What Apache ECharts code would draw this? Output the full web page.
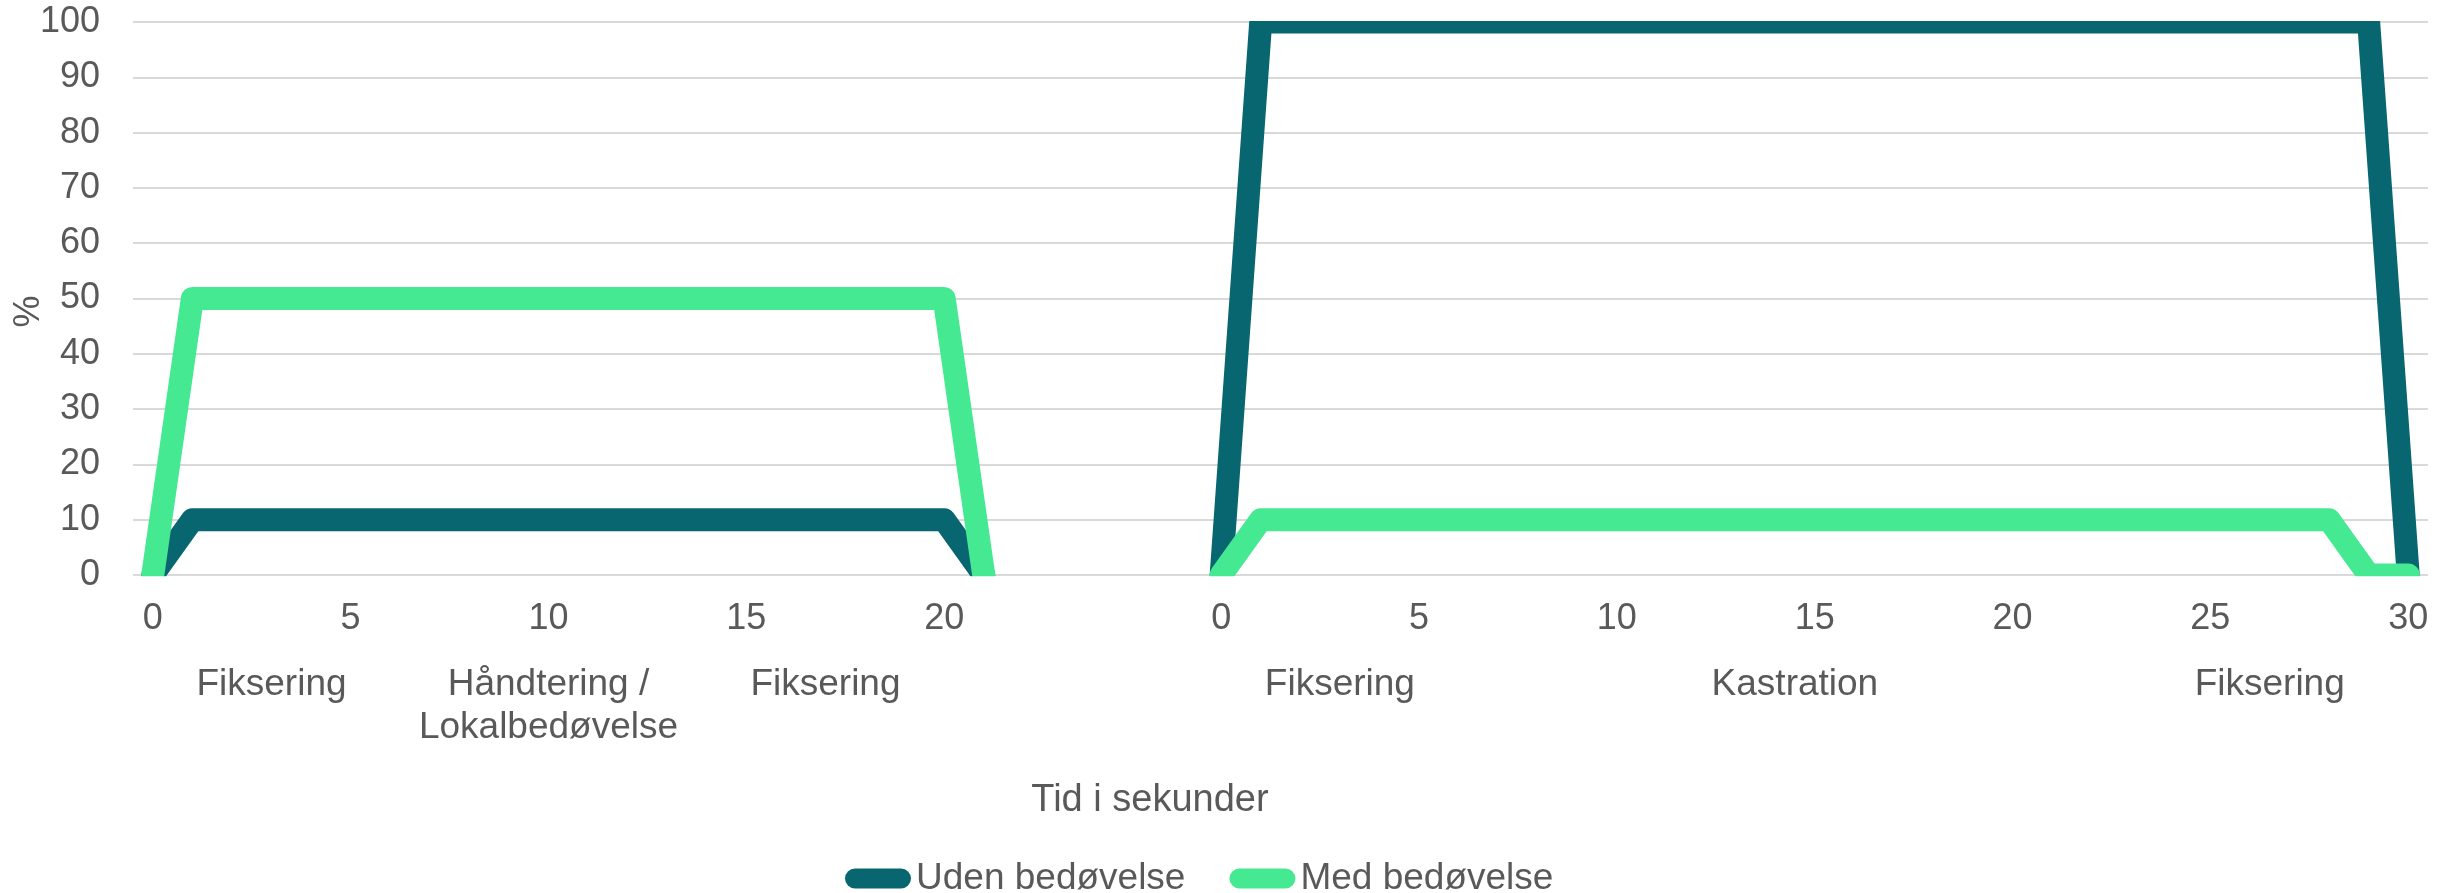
<!DOCTYPE html>
<html><head><meta charset="utf-8">
<script src="https://cdn.jsdelivr.net/npm/echarts@6/dist/echarts.min.js"></script>
<style>html,body{margin:0;padding:0;background:#fff}#c{width:2445px;height:893px}</style>
</head><body><div id="c"></div>
<script>
// Category axis: seconds of first procedure, 5 empty spacer slots, seconds of second procedure
const categories = [
  '0','1','2','3','4','5','6','7','8','9','10','11','12','13','14','15','16','17','18','19','20','21',
  '','','','','',
  '0','1','2','3','4','5','6','7','8','9','10','11','12','13','14','15','16','17','18','19','20',
  '21','22','23','24','25','26','27','28','29','30'
];
const tickLabels = ['0','5','10','15','20','25','30'];

const udenBedoevelse = [
  0,10,10,10,10,10,10,10,10,10,10,10,10,10,10,10,10,10,10,10,10,0,
  null,null,null,null,null,
  0,100,100,100,100,100,100,100,100,100,100,100,100,100,100,100,100,100,100,100,100,
  100,100,100,100,100,100,100,100,100,0
];
const medBedoevelse = [
  0,50,50,50,50,50,50,50,50,50,50,50,50,50,50,50,50,50,50,50,50,0,
  null,null,null,null,null,
  0,10,10,10,10,10,10,10,10,10,10,10,10,10,10,10,10,10,10,10,10,
  10,10,10,10,10,10,10,10,0,0
];

const phaseLabels = ['Fiksering','Håndtering /\nLokalbedøvelse','Fiksering','Fiksering','Kastration','Fiksering'];
const phaseIndex = [3, 10, 17, 30, 41.5, 53.5];

const FONT = '"Liberation Sans", Arial, sans-serif';
const TXT = '#595959';
const DARK = '#086670';
const GREEN = '#45E991';
const GRID = {left:133, right:17, top:22, bottom:318};

const chart = echarts.init(document.getElementById('c'), null, {renderer:'canvas', width:2445, height:893});
chart.setOption({
  animation:false,
  backgroundColor:'#fff',
  textStyle:{fontFamily:FONT},
  grid:Object.assign({outerBoundsMode:'none', containLabel:false}, GRID),
  legend:{
    left:840, top:855, itemWidth:66, itemHeight:20, itemGap:44,
    icon:'path://M10,0 L56,0 A10,10 0 0 1 56,20 L10,20 A10,10 0 0 1 10,0 Z',
    textStyle:{fontSize:37, color:TXT, fontFamily:FONT},
    data:['Uden bedøvelse','Med bedøvelse']
  },
  xAxis:{
    type:'category', data:categories, boundaryGap:true,
    axisLine:{show:false}, axisTick:{show:false}, splitLine:{show:false},
    axisLabel:{interval:0, margin:26, fontSize:36, color:TXT, fontFamily:FONT,
      formatter:function(v){ return tickLabels.indexOf(v) >= 0 ? v : ''; }}
  },
  yAxis:{
    type:'value', min:0, max:100, interval:10,
    name:'%', nameLocation:'middle', nameGap:86, nameRotate:90, nameMoveOverlap:false,
    nameTextStyle:{fontSize:36, color:TXT, fontFamily:FONT, padding:[0,26,0,0]},
    axisLine:{show:false}, axisTick:{show:false},
    axisLabel:{fontSize:36, color:TXT, margin:33, fontFamily:FONT},
    splitLine:{lineStyle:{color:'#d9d9d9', width:2}}
  },
  series:[
    {name:'Uden bedøvelse', type:'line', data:udenBedoevelse, symbol:'none', showSymbol:false,
     connectNulls:false, itemStyle:{color:DARK},
     lineStyle:{width:23, color:DARK, cap:'round', join:'round'}},
    {name:'Med bedøvelse', type:'line', data:medBedoevelse, symbol:'none', showSymbol:false,
     connectNulls:false, itemStyle:{color:GREEN},
     lineStyle:{width:23, color:GREEN, cap:'round', join:'round'}}
  ]
});

function xAt(pos){
  const i = Math.floor(pos), f = pos - i;
  const a = chart.convertToPixel({xAxisIndex:0}, i);
  if (f === 0) return a;
  const b = chart.convertToPixel({xAxisIndex:0}, i + 1);
  return a + (b - a) * f;
}
const yBottom = chart.convertToPixel({yAxisIndex:0}, 0);
const yTop = chart.convertToPixel({yAxisIndex:0}, 100);
const plotLeft = GRID.left, plotRight = 2445 - GRID.right;

const graphics = [];
// Clip the thick lines to the plot area (as in the original)
graphics.push({type:'rect', z:50, silent:true, shape:{x:plotLeft, y:yTop - 14, width:plotRight - plotLeft, height:13}, style:{fill:'#fff'}});
graphics.push({type:'rect', z:50, silent:true, shape:{x:plotLeft, y:yBottom + 1.2, width:plotRight - plotLeft, height:14}, style:{fill:'#fff'}});
phaseLabels.forEach(function(t, k){
  graphics.push({type:'text', z:60, silent:true, style:{
    text:t, x:xAt(phaseIndex[k]), y:yBottom + 88, font:'37px ' + FONT, fill:TXT,
    align:'center', verticalAlign:'top', lineHeight:43}});
});
graphics.push({type:'text', z:60, silent:true, style:{
  text:'Tid i sekunder', x:1150, y:801, font:'38px ' + FONT, fill:TXT,
  align:'center', verticalAlign:'middle'}});
chart.setOption({graphic:graphics});
</script>
</body></html>
